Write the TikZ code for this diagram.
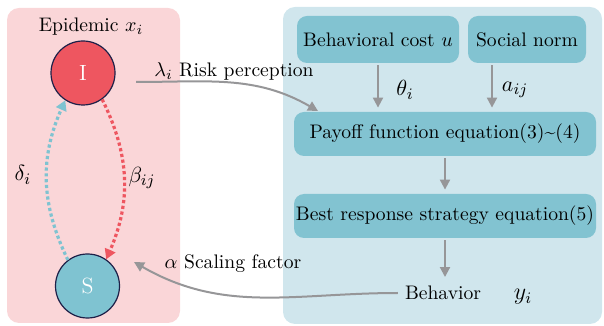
\documentclass[tikz,border=0pt]{standalone}
\usetikzlibrary{arrows.meta}
\usetikzlibrary{calc}

\definecolor{panelpink}{RGB}{250,214,216}
\definecolor{panelblue}{RGB}{208,230,237}
\definecolor{boxblue}{RGB}{130,195,209}
\definecolor{infred}{RGB}{238,86,96}
\definecolor{susblue}{RGB}{127,195,209}
\definecolor{rimnavy}{RGB}{30,32,72}
\definecolor{flowgray}{RGB}{150,150,152}

\tikzset{
  panel/.style = {rounded corners=6pt, draw=none},
  stagebox/.style = {rectangle, rounded corners=5pt, fill=boxblue, inner sep=0pt, minimum height=22pt},
  state/.style = {circle, draw=rimnavy, line width=0.6pt, minimum size=32pt, inner sep=0pt, text=white, font=\fontsize{11}{13}\selectfont},
  flow/.style = {draw=flowgray, line width=1pt, -{Triangle[length=5pt,width=5pt]}},
  spread/.style = {line width=1.6pt, dash pattern=on 1.6pt off 1.3pt, -{Triangle[length=5pt,width=5.5pt]}},
  symb/.style = {font=\fontsize{11}{13}\selectfont}
}

\begin{document}
\begin{tikzpicture}[x=0.5pt, y=0.5pt, font=\fontsize{9.8}{11}\selectfont]
\useasboundingbox (0,0) rectangle (604,326);
% panels
\fill [panel, fill=panelpink] (7,3) rectangle (180,318);
\fill [panel, fill=panelblue] (283,2) rectangle (602,319);

% epidemic side
\node (title) at (91,299) {Epidemic $x_i$};
\node [state, fill=infred] (I) at (83,253) {I};
\node [state, fill=susblue] (S) at (87.5,40) {S};
\draw [spread, draw=susblue, bend left=25] (S.127) to (I.237);
\draw [spread, draw=infred, bend left=25] (I.306) to (S.55);
\node [symb] (delta) at (23,151) {$\delta_i$};
\node [symb] (beta) at (142,148) {$\beta_{ij}$};

% behaviour side
\node [stagebox, minimum width=81pt, minimum height=23.5pt] (cost) at (378,286.5) {Behavioral cost $u$};
\node [stagebox, minimum width=59pt, minimum height=23.5pt] (norm) at (527,286.5) {Social norm};
\node [stagebox, minimum width=151pt] (payoff) at (445,192) {Payoff function equation(3)\textasciitilde(4)};
\node [stagebox, minimum width=151pt] (best) at (445,110) {Best response strategy equation(5)};
\node (behavior) at (443,33) {Behavior};
\node (yi) at (523,29) {\fontsize{12}{14}\selectfont$y_i$};

\draw [flow, shorten <=1pt, shorten >=2pt] (cost.south) -- (cost.south |- payoff.north);
\draw [flow, shorten <=1pt, shorten >=2pt] (norm.south -| 492,0) -- (492,0 |- payoff.north);
\draw [flow, shorten <=1pt, shorten >=2pt] (payoff.south) -- (best.north);
\draw [flow, shorten <=1pt, shorten >=1pt] (best.south) -- (best.south |- behavior.north);
\node [symb] (theta) at (405,236) {$\theta_i$};
\node [symb] (aij) at (515,236) {$a_{ij}$};

% coupling arrows
\coordinate (riskstart) at (136,244);
\coordinate (riskend) at (318,215);
\draw [flow] (riskstart) to [out=0, in=150] (riskend);
\node (risk) at (234,255) {$\lambda_i$ Risk perception};
\coordinate (scaleend) at (134,64);
\draw [flow] (behavior.west) to [out=180, in=-30] (scaleend);
\node (scale) at (233,62) {$\alpha$ Scaling factor};
\end{tikzpicture}
\end{document}
